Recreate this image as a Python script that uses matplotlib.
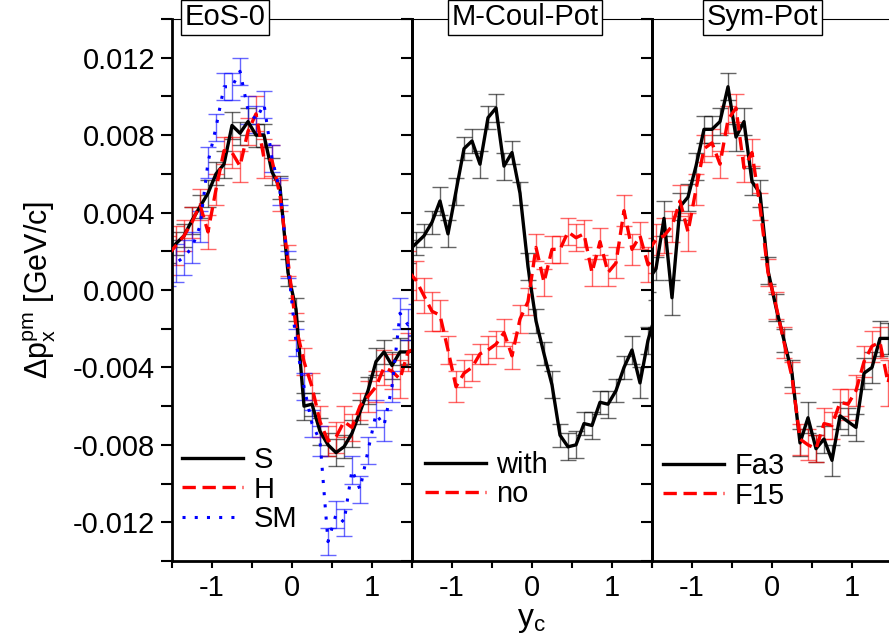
import numpy as np
import matplotlib.pyplot as plt
from matplotlib.ticker import MultipleLocator, FormatStrFormatter

plt.rcParams['font.family'] = ['Liberation Sans', 'DejaVu Sans']
plt.rcParams['mathtext.fontset'] = 'custom'
plt.rcParams['mathtext.rm'] = 'Liberation Sans'
plt.rcParams['mathtext.it'] = 'Liberation Sans:italic'
plt.rcParams['mathtext.default'] = 'rm'
plt.rcParams['axes.unicode_minus'] = False

# rapidity bins (y_c)
yc = [-1.55, -1.45, -1.35, -1.25, -1.15, -1.05, -0.95, -0.85, -0.75, -0.65, -0.55,
      -0.45, -0.35, -0.25, -0.15, -0.05, 0.05, 0.15, 0.25, 0.35, 0.45, 0.55,
      0.65, 0.75, 0.85, 0.95, 1.05, 1.15, 1.25, 1.35, 1.45, 1.55]

# panel 1: EoS-0
eos_S = [0.0020, 0.0024, 0.0028, 0.0036, 0.0043, 0.0050, 0.0060, 0.0065, 0.0085, 0.0081, 0.0087,
         0.0080, 0.0080, 0.0061, 0.0053, 0.0009, -0.0010, -0.0060, -0.0059, -0.0073, -0.0080, -0.0084,
         -0.0081, -0.0074, -0.0063, -0.0052, -0.0037, -0.0032, -0.0039, -0.0032, -0.0032, -0.0031]
eos_S_err = [0.0006, 0.0006, 0.0006, 0.0007, 0.0006, 0.0007, 0.0006, 0.0007, 0.0007, 0.0006, 0.0007,
             0.0006, 0.0006, 0.0007, 0.0006, 0.0007, 0.0006, 0.0007, 0.0006, 0.0007, 0.0006, 0.0007,
             0.0006, 0.0007, 0.0006, 0.0007, 0.0007, 0.0006, 0.0007, 0.0007, 0.0006, 0.0007]
eos_H = [0.0018, 0.0023, 0.0028, 0.0035, 0.0044, 0.0030, 0.0052, 0.0072, 0.0071, 0.0064, 0.0082,
         0.0091, 0.0068, 0.0067, 0.0049, 0.0015, -0.0019, -0.0037, -0.0050, -0.0068, -0.0078, -0.0076,
         -0.0068, -0.0071, -0.0060, -0.0055, -0.0050, -0.0040, -0.0042, -0.0046, -0.0032, -0.0030]
eos_H_err = [0.0010, 0.0010, 0.0008, 0.0008, 0.0008, 0.0009, 0.0008, 0.0007, 0.0008, 0.0008, 0.0007,
             0.0009, 0.0010, 0.0008, 0.0008, 0.0008, 0.0007, 0.0007, 0.0007, 0.0008, 0.0008, 0.0008,
             0.0008, 0.0007, 0.0007, 0.0008, 0.0008, 0.0009, 0.0009, 0.0010, 0.0010, 0.0010]
eos_SM = [0.0012, 0.0014, 0.0017, 0.0022, 0.0033, 0.0066, 0.0084, 0.0105, 0.0105, 0.0113, 0.0093,
          0.0088, 0.0096, 0.0068, 0.0051, 0.0013, -0.0027, -0.0050, -0.0069, -0.0078, -0.0130, -0.0116,
          -0.0120, -0.0093, -0.0103, -0.0083, -0.0064, -0.0070, -0.0050, -0.0012, -0.0018, -0.0015]
eos_SM_err = [0.0010, 0.0010, 0.0009, 0.0008, 0.0008, 0.0008, 0.0007, 0.0007, 0.0007, 0.0007, 0.0007,
              0.0007, 0.0007, 0.0007, 0.0007, 0.0007, 0.0007, 0.0007, 0.0007, 0.0008, 0.0007, 0.0007,
              0.0007, 0.0007, 0.0007, 0.0007, 0.0007, 0.0008, 0.0008, 0.0008, 0.0008, 0.0008]

# panel 2: M-Coul-Pot
coul_with = [0.0020, 0.0024, 0.0028, 0.0035, 0.0046, 0.0029, 0.0051, 0.0073, 0.0077, 0.0065, 0.0089,
             0.0094, 0.0064, 0.0071, 0.0050, 0.0012, -0.0016, -0.0033, -0.0049, -0.0075, -0.0081, -0.0080,
             -0.0069, -0.0070, -0.0058, -0.0059, -0.0052, -0.0040, -0.0031, -0.0048, -0.0026, -0.0012]
coul_with_err = [0.0006, 0.0006, 0.0006, 0.0006, 0.0007, 0.0007, 0.0007, 0.0006, 0.0006, 0.0007, 0.0006,
                 0.0007, 0.0007, 0.0006, 0.0006, 0.0007, 0.0006, 0.0006, 0.0007, 0.0006, 0.0007, 0.0007,
                 0.0006, 0.0007, 0.0006, 0.0007, 0.0006, 0.0006, 0.0007, 0.0008, 0.0007, 0.0007]
coul_no = [0.0010, 0.0005, -0.0003, -0.0011, -0.0013, -0.0031, -0.0050, -0.0043, -0.0040, -0.0033, -0.0031,
           -0.0028, -0.0022, -0.0034, -0.0015, -0.0006, 0.0022, 0.0004, 0.0021, 0.0021, 0.0030, 0.0027,
           0.0029, 0.0009, 0.0025, 0.0009, 0.0014, 0.0041, 0.0021, 0.0028, 0.0013, 0.0018]
coul_no_err = [0.0010, 0.0010, 0.0009, 0.0010, 0.0008, 0.0007, 0.0008, 0.0007, 0.0007, 0.0005, 0.0007,
               0.0007, 0.0007, 0.0007, 0.0007, 0.0007, 0.0007, 0.0007, 0.0007, 0.0007, 0.0007, 0.0007,
               0.0007, 0.0007, 0.0007, 0.0007, 0.0008, 0.0008, 0.0008, 0.0007, 0.0009, 0.0009]

# panel 3: Sym-Pot
sym_Fa3 = [0.0005, 0.0011, 0.0037, -0.0004, 0.0043, 0.0048, 0.0064, 0.0083, 0.0083, 0.0087, 0.0105,
           0.0079, 0.0087, 0.0056, 0.0050, 0.0010, -0.0009, -0.0026, -0.0043, -0.0079, -0.0066, -0.0082,
           -0.0077, -0.0088, -0.0065, -0.0068, -0.0071, -0.0043, -0.0040, -0.0025, -0.0025, -0.0025]
sym_Fa3_err = [0.0006, 0.0006, 0.0009, 0.0009, 0.0007, 0.0007, 0.0007, 0.0007, 0.0007, 0.0007, 0.0007,
               0.0007, 0.0007, 0.0007, 0.0007, 0.0007, 0.0007, 0.0006, 0.0007, 0.0007, 0.0008, 0.0007,
               0.0007, 0.0008, 0.0007, 0.0007, 0.0007, 0.0008, 0.0008, 0.0009, 0.0008, 0.0008]
sym_F15 = [0.0020, 0.0026, 0.0028, 0.0033, 0.0046, 0.0030, 0.0052, 0.0073, 0.0076, 0.0065, 0.0088,
           0.0094, 0.0063, 0.0071, 0.0043, 0.0009, -0.0008, -0.0027, -0.0045, -0.0077, -0.0080, -0.0082,
           -0.0069, -0.0070, -0.0058, -0.0059, -0.0052, -0.0037, -0.0029, -0.0027, -0.0048, -0.0030]
sym_F15_err = [0.0008, 0.0008, 0.0009, 0.0008, 0.0008, 0.0010, 0.0008, 0.0007, 0.0007, 0.0007, 0.0007,
               0.0007, 0.0007, 0.0007, 0.0007, 0.0007, 0.0007, 0.0008, 0.0008, 0.0008, 0.0008, 0.0007,
               0.0008, 0.0007, 0.0007, 0.0008, 0.0008, 0.0008, 0.0008, 0.0008, 0.0012, 0.0010]

solid = dict(color='black', ls='-', lw=2.4)
dashed = dict(color='red', ls=(0, (4, 2)), lw=2.4)
dotted = dict(color='blue', ls=(0, (1, 3)), lw=2.2)

panels = [
    ("EoS-0", 0.22, [(eos_S, eos_S_err, 'S', solid),
                     (eos_H, eos_H_err, 'H', dashed),
                     (eos_SM, eos_SM_err, 'SM', dotted)]),
    ("M-Coul-Pot", 0.47, [(coul_with, coul_with_err, 'with', solid),
                          (coul_no, coul_no_err, 'no', dashed)]),
    ("Sym-Pot", 0.46, [(sym_Fa3, sym_Fa3_err, 'Fa3', solid),
                       (sym_F15, sym_F15_err, 'F15', dashed)]),
]
legend_anchor = [(0.042, 0.212), (0.054, 0.203), (0.046, 0.201)]

fig = plt.figure(figsize=(8.89, 6.42), dpi=100)
x0 = 172 / 889
w = 240 / 889
b = 1 - 561 / 642
h = 542 / 642

for i, (title, tx, series) in enumerate(panels):
    ax = fig.add_axes([x0 + i * w, b, w, h])
    ax.patch.set_alpha(0)
    for vals, err, lab, st in series:
        ax.errorbar(yc, vals, yerr=err, fmt='none', ecolor=st['color'], elinewidth=1,
                    capsize=6, capthick=1, alpha=0.6, zorder=2)
        ax.plot(yc, vals, label=lab, zorder=3, **st)
    ax.set_xlim(-1.5, 1.5)
    ax.set_ylim(-0.014, 0.014)
    ax.xaxis.set_major_locator(MultipleLocator(1))
    ax.xaxis.set_minor_locator(MultipleLocator(0.5))
    ax.yaxis.set_major_locator(MultipleLocator(0.004))
    ax.yaxis.set_minor_locator(MultipleLocator(0.002))
    ax.yaxis.set_major_formatter(FormatStrFormatter('%.3f'))
    ax.tick_params(axis='x', which='both', direction='out', length=5, width=1.5,
                   labelsize=21, pad=4, top=False)
    ax.tick_params(axis='y', which='both', direction='out', length=8, width=1.5,
                   labelsize=21, pad=4, right=False, labelleft=(i == 0))
    for s in ['left', 'right', 'bottom']:
        ax.spines[s].set_linewidth(2)
    ax.spines['top'].set_linewidth(0.8)
    ax.text(tx, 1.003, title, transform=ax.transAxes, ha='center', va='center',
            fontsize=21, zorder=10, clip_on=False,
            bbox=dict(boxstyle='square,pad=0.12', fc='white', ec='black', lw=1))
    ax.legend(loc='upper left', bbox_to_anchor=legend_anchor[i], frameon=False,
              fontsize=21, handlelength=2.1, handletextpad=0.35, labelspacing=0.05,
              borderpad=0, borderaxespad=0)

fig.text(40 / 889, 1 - 290 / 642, r'$\Delta$p$_x^{pm}$ [GeV/c]', rotation=90,
         ha='center', va='center', fontsize=22)
fig.text(531 / 889, 1 - 620 / 642, 'y$_c$', ha='center', va='center', fontsize=23)

fig.savefig('out.png', dpi=100)
